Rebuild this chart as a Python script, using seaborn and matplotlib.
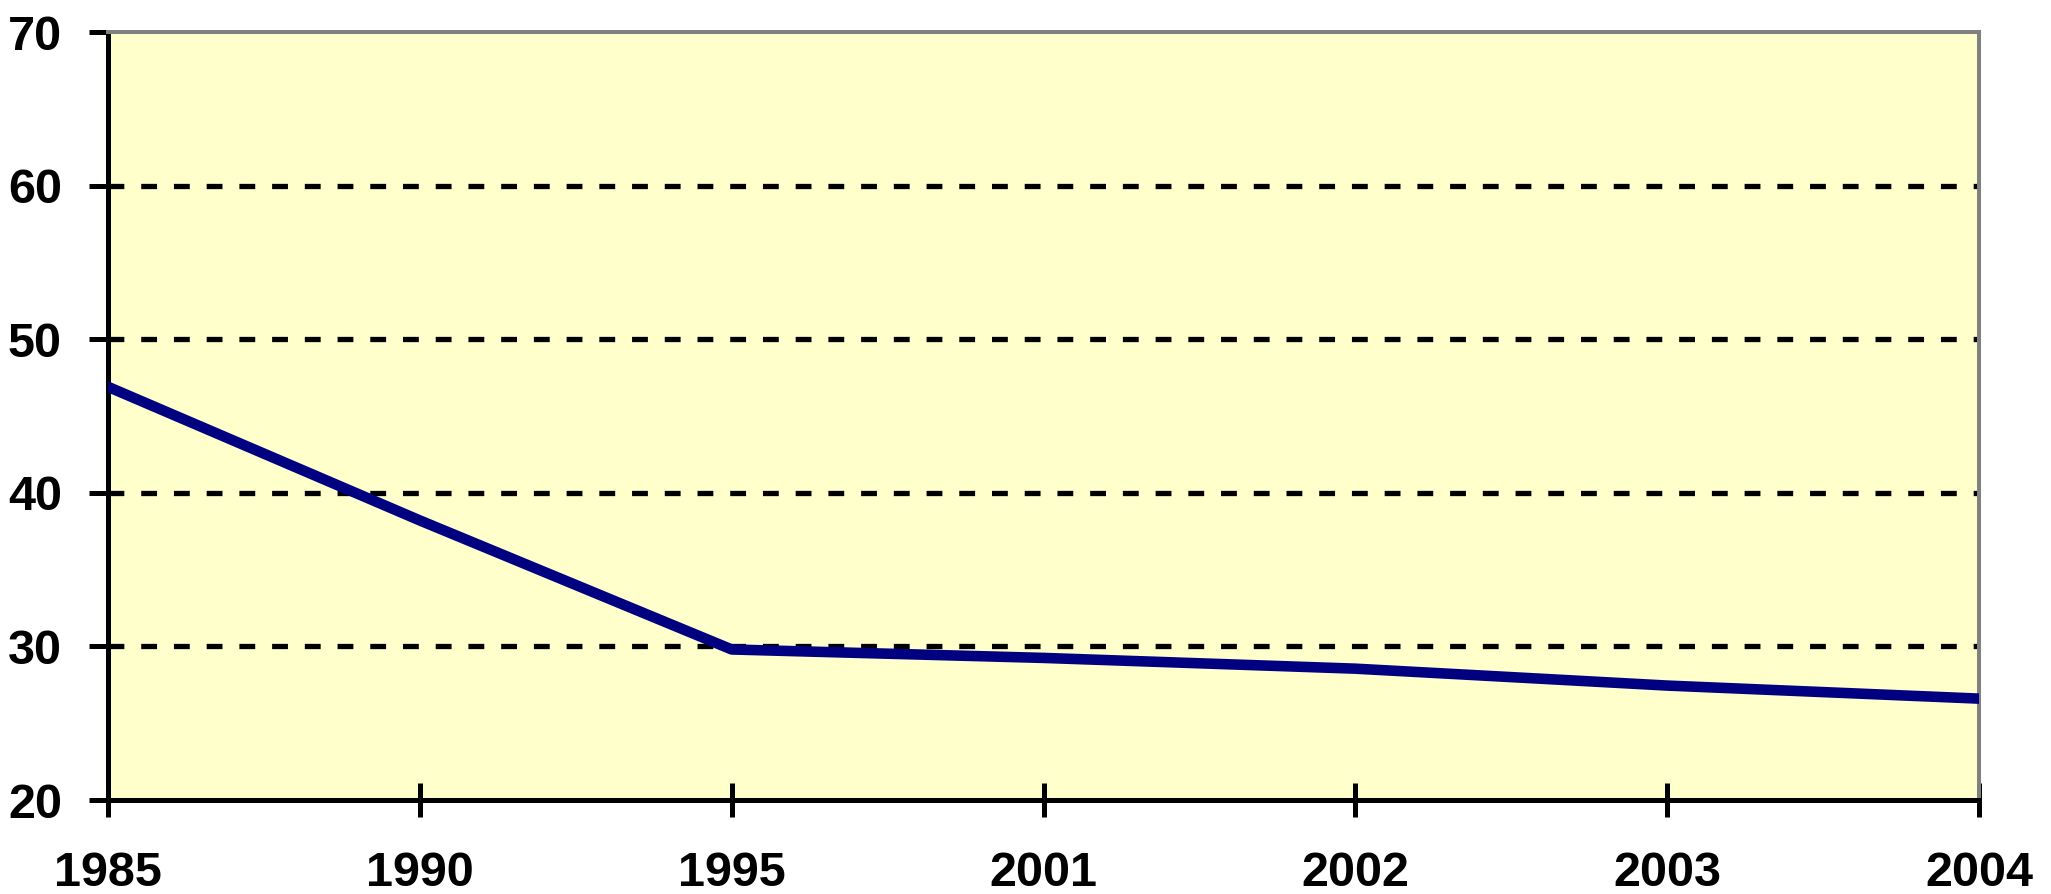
import numpy as np
import pandas as pd
import matplotlib
matplotlib.use("Agg")
import matplotlib.pyplot as plt
import seaborn as sns

# ---------------------------
# Data
# ---------------------------
years = ["1985", "1990", "1995", "2001", "2002", "2003", "2004"]
values = [46.9, 38.2, 29.8, 29.25, 28.55, 27.45, 26.6]
yticks = [20, 30, 40, 50, 60, 70]

df = pd.DataFrame({"year": years, "value": values})

# ---------------------------
# Style
# ---------------------------
sns.set_style("white")
plt.rcParams["font.family"] = ["Liberation Sans", "DejaVu Sans"]
plt.rcParams["font.weight"] = "bold"
fsize = 35

W, H = 2051, 894
fig = plt.figure(figsize=(W / 100, H / 100), dpi=100)
ax = fig.add_axes([108 / W, 1 - 800 / H, (1979 - 108) / W, (800 - 32) / H])
ax.set_facecolor("#FFFFCC")

# dashed horizontal grid, skipping the frame edges
for v in yticks[1:-1]:
    ax.axhline(v, color="black", lw=3.8, linestyle=(0, (3.0, 3.2)), zorder=1)

sns.lineplot(data=df, x="year", y="value", sort=False, color="#000080",
             linewidth=7.6, ax=ax, zorder=3)

ax.set_xlim(0, len(years) - 1)
ax.set_ylim(yticks[0], yticks[-1])
ax.set_yticks(yticks)
ax.set_xlabel("")
ax.set_ylabel("")

for side in ["left", "bottom"]:
    ax.spines[side].set_color("black")
    ax.spines[side].set_linewidth(3.6)
for side in ["top", "right"]:
    ax.spines[side].set_color("#808080")
    ax.spines[side].set_linewidth(2.9)
    ax.spines[side].set_visible(True)

ax.tick_params(axis="x", direction="inout", length=24, width=3.6,
               pad=25, labelsize=fsize, colors="black")
ax.tick_params(axis="y", direction="out", length=13.7, width=3.6,
               pad=19.4, labelsize=fsize, colors="black")
ax.tick_params(left=True, bottom=True)

fig.savefig("out.png", dpi=100, facecolor="white")
